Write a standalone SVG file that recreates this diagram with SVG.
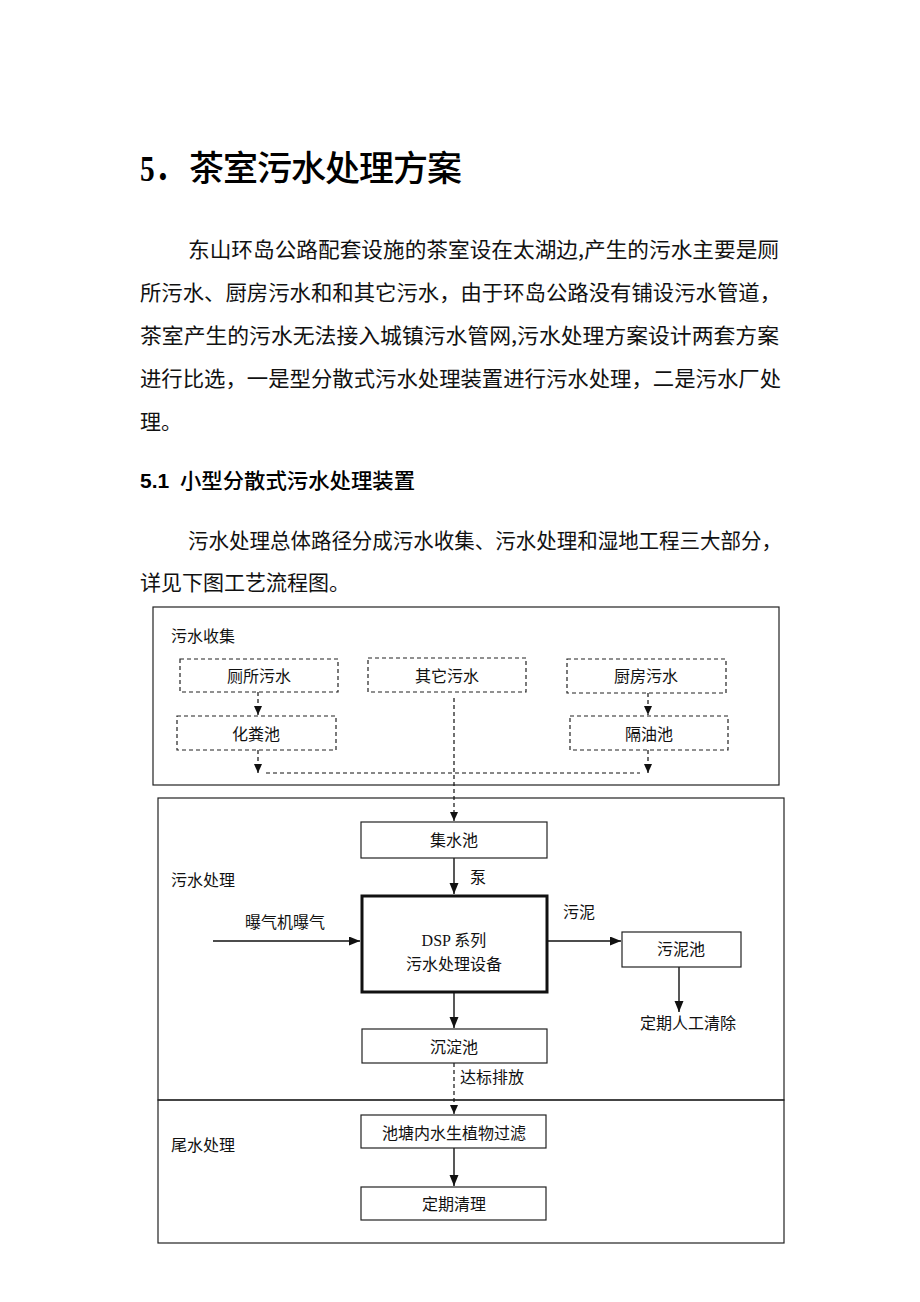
<svg xmlns="http://www.w3.org/2000/svg" width="920" height="1302" viewBox="0 0 920 1302">
<style>
.body{font-family:"Noto Sans CJK SC","Noto Sans",sans-serif;font-size:21px;fill:#111}
.lbl{font-family:"Liberation Serif","Noto Sans CJK SC",serif;font-size:16px;fill:#111}
.cjk{font-family:"Noto Sans CJK SC",sans-serif}
.c{text-anchor:middle}
.frame{fill:none;stroke:#222;stroke-width:1.2}
.box{fill:#fff;stroke:#222;stroke-width:1.2}
.dbox{fill:#fff;stroke:#222;stroke-width:1.2;stroke-dasharray:4 3}
.ln{fill:none;stroke:#111;stroke-width:1.4}
.dl{fill:none;stroke:#111;stroke-width:1.2;stroke-dasharray:4 3}
</style>
<defs>
<marker id="ah" markerUnits="userSpaceOnUse" markerWidth="12" markerHeight="10" refX="11" refY="4.5" orient="auto">
<path d="M0,0 L11,4.5 L0,9 z" fill="#111"/>
</marker>
<marker id="ahs" markerUnits="userSpaceOnUse" markerWidth="10" markerHeight="9" refX="9" refY="4" orient="auto">
<path d="M0,0 L9,4 L0,8 z" fill="#111"/>
</marker>
</defs>
<rect width="920" height="1302" fill="#fff"/>

<g id="title">
<text x="140" y="181" style="font-family:'Liberation Serif','Noto Sans CJK SC',serif;font-size:36px;font-weight:bold;fill:#000" textLength="44" lengthAdjust="spacingAndGlyphs">5．</text>
<text x="189" y="181" class="cjk" style="font-size:35px;font-weight:500;fill:#000" textLength="273" lengthAdjust="spacing">茶室污水处理方案</text>
</g>

<g id="para1" class="body">
<text x="188" y="257" textLength="591" lengthAdjust="spacingAndGlyphs">东山环岛公路配套设施的茶室设在太湖边,产生的污水主要是厕</text>
<text x="140" y="300" textLength="641" lengthAdjust="spacingAndGlyphs">所污水、厨房污水和和其它污水，由于环岛公路没有铺设污水管道，</text>
<text x="140" y="343" textLength="639" lengthAdjust="spacingAndGlyphs">茶室产生的污水无法接入城镇污水管网,污水处理方案设计两套方案</text>
<text x="140" y="386" textLength="641" lengthAdjust="spacingAndGlyphs">进行比选，一是型分散式污水处理装置进行污水处理，二是污水厂处</text>
<text x="140" y="429">理。</text>
</g>

<g id="heading51">
<text x="140" y="488" style="font-family:'Liberation Sans',sans-serif;font-size:21px;font-weight:bold;fill:#000">5.1</text>
<text x="180" y="488" class="cjk" style="font-size:21px;font-weight:500;fill:#000" textLength="235" lengthAdjust="spacingAndGlyphs">小型分散式污水处理装置</text>
</g>

<g id="para2" class="body">
<text x="188" y="548" textLength="594" lengthAdjust="spacingAndGlyphs">污水处理总体路径分成污水收集、污水处理和湿地工程三大部分，</text>
<text x="140" y="590" textLength="210" lengthAdjust="spacingAndGlyphs">详见下图工艺流程图。</text>
</g>

<g id="frame-collect">
<rect class="frame" x="153" y="607" width="626" height="178"/>
<text class="lbl" x="171" y="642">污水收集</text>
</g>
<g id="frame-treat">
<rect class="frame" x="158" y="798" width="626" height="302"/>
<text class="lbl" x="171" y="886">污水处理</text>
</g>
<g id="frame-tail">
<rect class="frame" x="158" y="1100" width="626" height="143"/>
<text class="lbl" x="171" y="1151">尾水处理</text>
</g>

<g id="connectors">
<line class="dl" x1="258" y1="692" x2="258" y2="715" marker-end="url(#ahs)"/>
<line class="dl" x1="648" y1="693" x2="648" y2="715" marker-end="url(#ahs)"/>
<line class="dl" x1="258" y1="750" x2="258" y2="773" marker-end="url(#ahs)"/>
<line class="dl" x1="648" y1="750" x2="648" y2="773" marker-end="url(#ahs)"/>
<line class="dl" x1="266" y1="773" x2="640" y2="773"/>
<line class="dl" x1="454" y1="698" x2="454" y2="821" marker-end="url(#ahs)"/>
<line class="ln" x1="454" y1="858" x2="454" y2="894" marker-end="url(#ah)"/>
<line class="ln" x1="213" y1="941" x2="360" y2="941" marker-end="url(#ah)"/>
<line class="ln" x1="548" y1="941" x2="621" y2="941" marker-end="url(#ah)"/>
<line class="ln" x1="679" y1="967" x2="679" y2="1012" marker-end="url(#ah)"/>
<line class="ln" x1="454" y1="993" x2="454" y2="1028" marker-end="url(#ah)"/>
<line class="dl" x1="454" y1="1063" x2="454" y2="1114" marker-end="url(#ahs)"/>
<line class="ln" x1="454" y1="1148" x2="454" y2="1186" marker-end="url(#ah)"/>
<text class="lbl" x="470" y="883">泵</text>
<text class="lbl" x="245" y="928">曝气机曝气</text>
<text class="lbl" x="563" y="918">污泥</text>
<text class="lbl" x="460" y="1083">达标排放</text>
<text class="lbl c" x="688" y="1029">定期人工清除</text>
</g>

<g id="n-cesuo"><rect class="dbox" x="180" y="659" width="158" height="33"/><text class="lbl c" x="259" y="682">厕所污水</text></g>
<g id="n-qita"><rect class="dbox" x="368" y="658" width="158" height="34"/><text class="lbl c" x="447" y="682">其它污水</text></g>
<g id="n-chufang"><rect class="dbox" x="567" y="659" width="159" height="34"/><text class="lbl c" x="646" y="682">厨房污水</text></g>
<g id="n-huafen"><rect class="dbox" x="177" y="716" width="159" height="34"/><text class="lbl c" x="256" y="740">化粪池</text></g>
<g id="n-geyou"><rect class="dbox" x="570" y="716" width="158" height="34"/><text class="lbl c" x="649" y="740">隔油池</text></g>
<g id="n-jishui"><rect class="box" x="361" y="822" width="186" height="36"/><text class="lbl c" x="454" y="846">集水池</text></g>
<g id="n-dsp"><rect x="362" y="896" width="185" height="96" fill="#fff" stroke="#111" stroke-width="3"/><text class="lbl c" x="454" y="946">DSP 系列</text><text class="lbl c" x="454" y="970">污水处理设备</text></g>
<g id="n-wuni"><rect class="box" x="622" y="932" width="119" height="35"/><text class="lbl c" x="681" y="955">污泥池</text></g>
<g id="n-chendian"><rect class="box" x="362" y="1029" width="185" height="34"/><text class="lbl c" x="454" y="1053">沉淀池</text></g>
<g id="n-chitang"><rect class="box" x="361" y="1115" width="185" height="33"/><text class="lbl c" x="454" y="1139">池塘内水生植物过滤</text></g>
<g id="n-qingli"><rect class="box" x="361" y="1187" width="185" height="33"/><text class="lbl c" x="454" y="1210">定期清理</text></g>
</svg>
